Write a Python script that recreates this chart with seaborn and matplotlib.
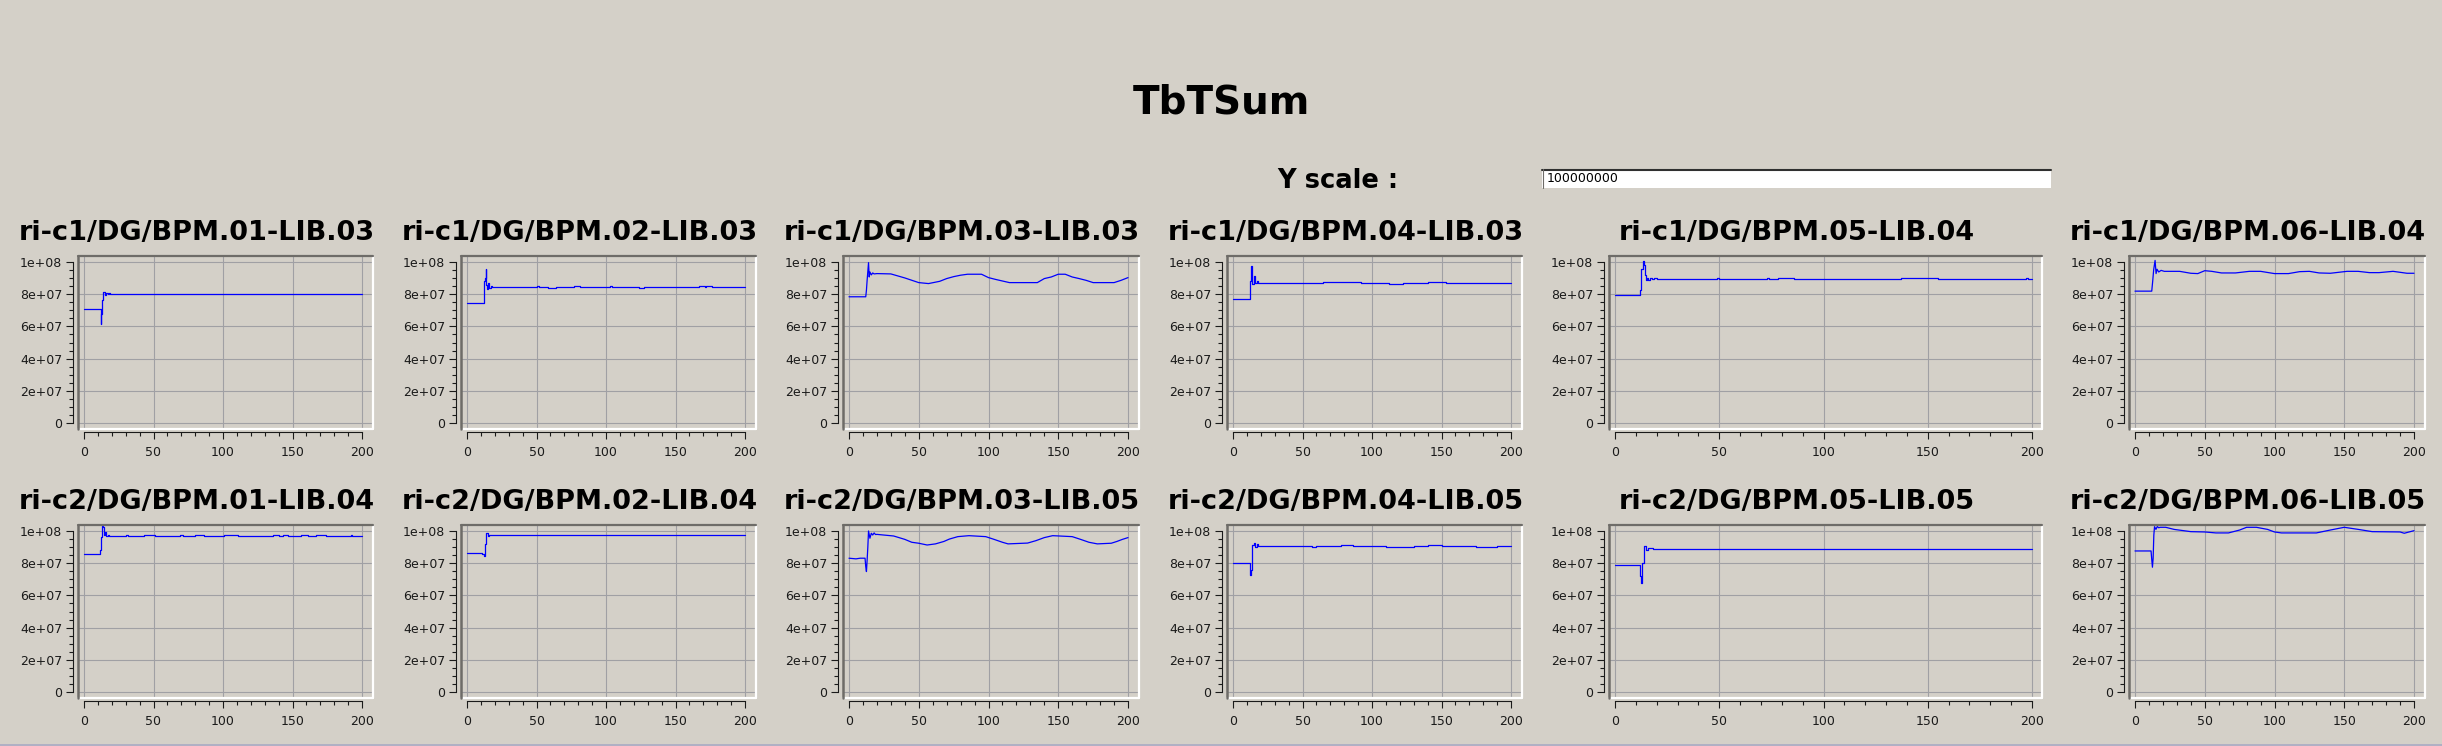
import numpy as np
import seaborn as sns
import matplotlib.pyplot as plt
from matplotlib.lines import Line2D
from matplotlib.patches import Rectangle
from matplotlib.ticker import MultipleLocator, FuncFormatter

# --- data (y values in units of 1e6) ---
names = ["ri-c1/DG/BPM.01-LIB.03", "ri-c1/DG/BPM.02-LIB.03", "ri-c1/DG/BPM.03-LIB.03",
         "ri-c1/DG/BPM.04-LIB.03", "ri-c1/DG/BPM.05-LIB.04", "ri-c1/DG/BPM.06-LIB.04",
         "ri-c2/DG/BPM.01-LIB.04", "ri-c2/DG/BPM.02-LIB.04", "ri-c2/DG/BPM.03-LIB.05",
         "ri-c2/DG/BPM.04-LIB.05", "ri-c2/DG/BPM.05-LIB.05", "ri-c2/DG/BPM.06-LIB.05"]

x1 = [0, 7, 8, 12, 12.5, 13, 14, 15, 16, 17, 18, 19, 38, 39, 58, 62, 92, 94, 126, 130, 164, 166, 186, 190, 200]
y1 = [71.1, 70.8, 71.1, 61.8, 68.0, 76.5, 81.5, 79.6, 80.8, 79.9, 80.6, 80.4, 79.9, 80.4, 79.9, 80.4, 79.9, 80.4,
      80.0, 80.4, 80.0, 80.4, 79.9, 80.4, 80.4]

x2 = [0, 12.5, 13, 13.5, 14, 14.5, 15, 16, 17, 18, 19, 50, 52, 58, 64, 77, 81, 103, 104, 124, 127, 167, 171, 172, 176, 200]
y2 = [74.8, 88.5, 90.0, 95.9, 86.0, 83.3, 87.0, 84.0, 85.4, 84.3, 84.7, 85.3, 84.7, 84.1, 84.7, 85.3, 84.7, 85.2,
      84.7, 84.1, 84.7, 85.3, 84.7, 85.3, 84.7, 84.7]

x3 = [0, 12, 12.5, 13, 14, 14.5, 15, 16, 17, 18, 20, 30, 40, 50, 57, 65, 70, 75, 80, 85, 95, 100, 105, 110, 115,
      135, 140, 145, 150, 155, 160, 165, 170, 175, 190, 195, 200]
y3 = [78.4, 78.4, 82.5, 88.7, 99.6, 90.7, 93.8, 92.0, 93.2, 92.6, 92.8, 92.6, 90.1, 87.2, 86.6, 88.0, 89.7, 90.9,
      91.8, 92.4, 92.4, 90.3, 89.2, 88.2, 87.2, 87.2, 89.7, 90.7, 92.4, 92.4, 90.7, 89.7, 88.6, 87.2, 87.2, 88.6,
      90.3]

x4 = [0, 1, 12, 12.5, 13, 14, 15, 16, 17, 18, 20, 45, 65, 92, 112, 122, 140, 147, 153, 168, 192, 200]
y4 = [77.3, 76.9, 80.0, 88.0, 97.3, 86.6, 91.1, 87.0, 88.0, 87.2, 87.0, 86.8, 87.8, 87.2, 86.6, 87.2, 87.6, 87.8,
      87.2, 86.8, 87.2, 87.2]

x5 = [0, 12, 12.7, 13.3, 13.8, 14.3, 14.7, 15.4, 16, 16.8, 17.8, 18.9, 20, 49, 50, 58, 64, 73, 74, 78, 86, 116, 117,
      121, 122, 137, 155, 174, 184, 197, 198, 200]
y5 = [79.2, 82.5, 95.9, 100.6, 98.0, 91.8, 89.1, 90.3, 89.1, 90.1, 89.5, 89.9, 89.7, 90.2, 89.7, 89.2, 89.7, 90.2,
      89.7, 90.2, 89.7, 89.2, 89.7, 89.2, 89.7, 90.2, 89.7, 89.2, 89.7, 90.2, 89.7, 89.7]

x6 = [0, 12, 12.7, 13.4, 14.4, 15.1, 15.8, 17, 18.7, 21, 32, 40, 45, 50, 55, 62, 72, 82, 90, 100, 110, 118, 125,
      132, 140, 152, 160, 168, 175, 185, 195, 200]
y6 = [81.9, 81.9, 88.2, 95.3, 101.0, 92.8, 95.5, 93.8, 94.8, 94.2, 94.2, 93.0, 92.8, 94.6, 94.2, 93.2, 93.2, 94.2,
      94.2, 92.8, 92.8, 94.0, 94.2, 93.2, 93.0, 94.2, 94.2, 93.4, 93.4, 94.2, 93.0, 93.0]

x7 = [0, 11.5, 12.4, 13.1, 13.9, 14.6, 15.3, 16, 17.2, 18, 30, 32, 43, 51, 69, 71, 80, 86, 101, 111, 136, 140, 143,
      147, 156, 161, 167, 174, 192, 193, 200]
y7 = [86.0, 88.0, 96.3, 102.9, 102.5, 97.7, 99.4, 96.9, 97.4, 97.1, 97.7, 97.1, 97.7, 97.1, 97.7, 97.1, 97.7, 97.1,
      97.7, 97.1, 97.7, 97.1, 97.7, 97.1, 97.7, 97.1, 97.7, 97.1, 97.7, 97.1, 97.1]

x8 = [0, 11, 12, 13, 14, 15, 16, 18, 200]
y8 = [86.4, 85.5, 84.5, 92.0, 98.5, 97.2, 97.8, 97.5, 97.5]

x9 = [0, 5, 8, 11.5, 12, 12.5, 13, 13.5, 14, 15, 16, 17, 18, 19, 20, 32, 40, 45, 50, 56, 62, 68, 72, 78, 86, 98,
      104, 110, 114, 128, 134, 140, 146, 160, 166, 172, 178, 188, 192, 196, 200]
y9 = [83.1, 82.7, 83.1, 83.1, 77.9, 74.8, 82.0, 90.0, 100.0, 95.5, 98.6, 97.5, 98.8, 97.8, 97.9, 96.9, 94.8, 93.0,
      92.4, 91.3, 92.0, 93.5, 95.0, 96.5, 97.1, 96.5, 94.8, 93.0, 92.0, 92.5, 94.0, 95.9, 97.1, 96.5, 94.8, 93.0,
      92.0, 92.4, 93.5, 94.8, 95.9]

x10 = [0, 12, 12.5, 13, 13.5, 14, 15, 16, 17, 18, 20, 57, 60, 78, 86, 110, 130, 140, 150, 175, 190, 200]
y10 = [79.9, 76.0, 72.5, 76.0, 84.5, 91.0, 92.4, 89.9, 92.0, 90.6, 90.5, 90.0, 90.5, 91.0, 90.5, 90.0, 90.5, 91.0,
       90.5, 90.0, 90.5, 90.5]

x11 = [0, 12, 12.5, 13, 14, 15, 16, 18, 200]
y11 = [78.6, 72.0, 68.0, 80.0, 90.5, 88.5, 89.5, 89.0, 89.0]

x12 = [0, 11.5, 12, 12.5, 13, 13.5, 14, 15, 16, 17, 18, 22, 28, 40, 50, 58, 67, 75, 80, 87, 95, 100, 105, 130,
       140, 150, 160, 170, 190, 193, 200]
y12 = [87.6, 87.6, 82.4, 77.5, 83.0, 97.5, 102.7, 101.0, 102.8, 102.0, 102.3, 102.3, 101.0, 99.6, 99.4, 98.8,
       98.8, 100.6, 102.3, 102.3, 101.0, 99.4, 98.8, 98.8, 100.6, 102.3, 101.0, 99.6, 99.4, 98.6, 100.2]

xs = [x1, x2, x3, x4, x5, x6, x7, x8, x9, x10, x11, x12]
ys = [y1, y2, y3, y4, y5, y6, y7, y8, y9, y10, y11, y12]
# flat traces are drawn as held samples, the slowly waving ones as plain lines
stepped = [True, True, False, True, True, False, True, True, False, True, True, False]

# --- layout (pixels of a 2442x746 canvas) ---
W, H = 2442, 746
BG = "#d4d0c8"
col_l = [78, 461, 843, 1227, 1609, 2129]
col_r = [373, 756, 1139, 1522, 2042, 2425]
row_t = [256, 525]
row_b = [429, 698]
title_base = [240, 509]

sns.set_theme(style="white", rc={"axes.facecolor": BG, "figure.facecolor": BG})
plt.rcParams["font.family"] = ["DejaVu Sans"]

fig = plt.figure(figsize=(W / 100, H / 100), dpi=100)
fig.patch.set_facecolor(BG)

fig.text(1221 / W, 1 - 113 / H, "TbTSum", ha="center", va="baseline",
         fontsize=28, fontweight="bold", color="black")
fig.text(1277 / W, 1 - 188 / H, "Y scale :", ha="left", va="baseline",
         fontsize=18.5, fontweight="bold", color="black")
# text entry box
fig.patches.append(Rectangle((1542 / W, 1 - 188 / H), (2051 - 1542) / W, 19 / H,
                             transform=fig.transFigure, facecolor="white",
                             edgecolor="none"))
fig.add_artist(Line2D([1542 / W, 2051 / W], [1 - 169.5 / H] * 2, color="#303030", lw=1.5))
fig.add_artist(Line2D([1542.5 / W] * 2, [1 - 169 / H, 1 - 188 / H], color="#6e6c68", lw=0.8))
fig.text(1547 / W, 1 - 179 / H, "100000000", ha="left", va="center", fontsize=9, color="black")
# bottom strip
fig.patches.append(Rectangle((0, 0), 1, 2.5 / H, transform=fig.transFigure,
                             facecolor="#b0b0c4", edgecolor="none"))

ypad = 6 * 1e8 / 161
for i, (name, xv, yv) in enumerate(zip(names, xs, ys)):
    r, c = divmod(i, 6)
    L, R, T, B = col_l[c], col_r[c], row_t[r], row_b[r]
    ax = fig.add_axes([L / W, 1 - B / H, (R - L) / W, (B - T) / H])
    ax.set_facecolor(BG)
    rpad = 10 if c == 4 else 11
    u = 200 / (R - L - 6 - rpad)
    sns.lineplot(x=np.array(xv), y=np.array(yv) * 1e6, ax=ax, color="#0000ff",
                 linewidth=0.9, drawstyle="steps-post" if stepped[i] else "default",
                 estimator=None, sort=False, legend=False)
    ax.set_xlim(-6 * u, 200 + rpad * u)
    ax.set_ylim(-ypad, 1e8 + ypad)
    ax.set_xlabel("")
    ax.set_ylabel("")

    ax.xaxis.set_major_locator(MultipleLocator(50))
    ax.xaxis.set_minor_locator(MultipleLocator(10))
    ax.yaxis.set_major_locator(MultipleLocator(2e7))
    ax.yaxis.set_minor_locator(MultipleLocator(5e6))
    ax.yaxis.set_major_formatter(FuncFormatter(lambda v, _: "%g" % v))
    ax.grid(True, which="major", color="#a0a0a4", lw=0.8)

    for s in ("top", "right"):
        ax.spines[s].set_visible(False)
    ax.spines["left"].set_position(("outward", 3.4))
    ax.spines["left"].set_bounds(0, 1e8)
    ax.spines["bottom"].set_position(("outward", 2.4))
    ax.spines["bottom"].set_bounds(0, 200)
    for s in ("left", "bottom"):
        ax.spines[s].set_color("#1a1a1a")
        ax.spines[s].set_linewidth(0.8)
    ax.tick_params(which="major", direction="out", length=5, width=0.8, color="#1a1a1a",
                   labelsize=9, labelcolor="#1a1a1a")
    ax.tick_params(axis="y", which="major", pad=3)
    ax.tick_params(axis="x", which="major", pad=4.5)
    ax.tick_params(which="minor", direction="out", length=2.6, width=0.8, color="#1a1a1a")
    ax.tick_params(left=True, bottom=True, which="both")

    # sunken frame around the canvas
    ax.add_line(Line2D([1, 1], [0, 1], transform=ax.transAxes, color="white", lw=1.6, clip_on=False))
    ax.add_line(Line2D([0, 1], [0, 0], transform=ax.transAxes, color="white", lw=1.6, clip_on=False))
    ax.add_line(Line2D([0, 0], [0, 1], transform=ax.transAxes, color="#6e6c68", lw=1.8, clip_on=False))
    ax.add_line(Line2D([0, 1], [1, 1], transform=ax.transAxes, color="#6e6c68", lw=1.6, clip_on=False))

    cx = (L - 58 + R) / 2
    fig.text(cx / W, 1 - title_base[r] / H, name, ha="center", va="baseline",
             fontsize=19.5, fontweight="bold", color="black")

fig.savefig("out.png", dpi=100, facecolor=BG)
